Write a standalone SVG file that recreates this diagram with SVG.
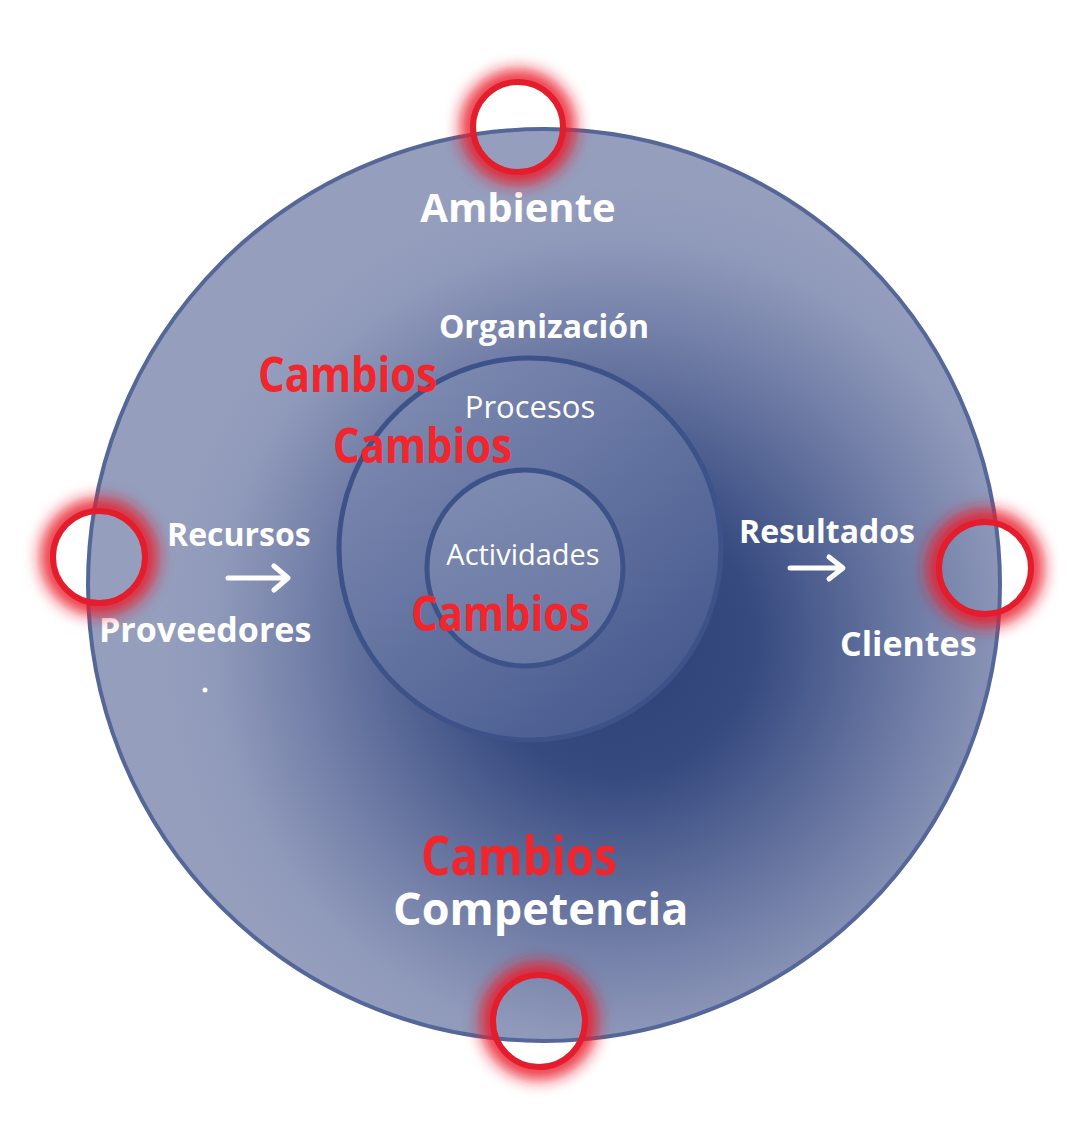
<svg xmlns="http://www.w3.org/2000/svg" width="1091" height="1124" viewBox="0 0 1091 1124">
<style>
.w{fill:#ffffff;font-family:"Open Sans","DejaVu Sans",sans-serif;}
.b{font-weight:bold;}
.r{fill:#f1252c;font-family:"Open Sans","DejaVu Sans",sans-serif;font-weight:bold;}
.ring{fill:none;stroke:#e31d2b;stroke-width:6;}
.glow{fill:none;stroke:#ea1f2c;stroke-width:18;filter:url(#blur);}
.edge{stroke:#3d5288;stroke-width:5;}
.oedge{stroke:#556699;stroke-width:4;}
</style>
<defs>
<radialGradient id="gOuter" cx="0.58" cy="0.56" r="0.5">
<stop offset="0" stop-color="#2c4076"/>
<stop offset="0.3" stop-color="#364a80"/>
<stop offset="0.7" stop-color="#7682aa"/>
<stop offset="0.88" stop-color="#8f99ba"/>
<stop offset="1" stop-color="#959ebd"/>
</radialGradient>
<linearGradient id="gMid" x1="0.2" y1="0.1" x2="0.85" y2="0.9">
<stop offset="0" stop-color="#7b88af"/>
<stop offset="1" stop-color="#475a8f"/>
</linearGradient>
<linearGradient id="gIn" x1="0.3" y1="0" x2="0.7" y2="1">
<stop offset="0" stop-color="#7e8bb1"/>
<stop offset="1" stop-color="#6877a3"/>
</linearGradient>
<filter id="blur" filterUnits="userSpaceOnUse" x="0" y="0" width="1091" height="1124"><feGaussianBlur stdDeviation="8"/></filter>
<mask id="mT" maskUnits="userSpaceOnUse" x="0" y="0" width="1091" height="1124"><rect width="1091" height="1124" fill="#fff"/><circle cx="518" cy="127" r="43" fill="#000"/></mask>
<mask id="mL" maskUnits="userSpaceOnUse" x="0" y="0" width="1091" height="1124"><rect width="1091" height="1124" fill="#fff"/><circle cx="99" cy="557" r="44" fill="#000"/></mask>
<mask id="mR" maskUnits="userSpaceOnUse" x="0" y="0" width="1091" height="1124"><rect width="1091" height="1124" fill="#fff"/><circle cx="985" cy="568" r="44" fill="#000"/></mask>
<mask id="mB" maskUnits="userSpaceOnUse" x="0" y="0" width="1091" height="1124"><rect width="1091" height="1124" fill="#fff"/><circle cx="539" cy="1021" r="44" fill="#000"/></mask>
</defs>
<rect width="1091" height="1124" fill="#ffffff"/>
<g id="ambiente">
<circle cx="544" cy="585" r="456" fill="url(#gOuter)" class="oedge"/>
<text x="518" y="222" class="w b" font-size="40" text-anchor="middle">Ambiente</text>
<text x="393" y="925" class="w b" font-size="45">Competencia</text>
<text x="421" y="875" class="r" font-size="54" textLength="196" lengthAdjust="spacingAndGlyphs">Cambios</text>
</g>
<g id="organizacion">
<circle cx="530" cy="549" r="191" fill="url(#gMid)" class="edge"/>
<text x="544" y="338" class="w b" font-size="32" text-anchor="middle">Organización</text>
<text x="258" y="392" class="r" font-size="48" textLength="179" lengthAdjust="spacingAndGlyphs">Cambios</text>
</g>
<g id="procesos">
<text x="530" y="418" class="w" font-size="31" text-anchor="middle">Procesos</text>
<text x="333" y="463" class="r" font-size="48" textLength="179" lengthAdjust="spacingAndGlyphs">Cambios</text>
</g>
<g id="actividades">
<circle cx="525" cy="568" r="98" fill="url(#gIn)" class="edge"/>
<text x="523" y="565" class="w" font-size="29" text-anchor="middle">Actividades</text>
<text x="411" y="631" class="r" font-size="48" textLength="179" lengthAdjust="spacingAndGlyphs">Cambios</text>
</g>
<g id="recursos">
<text x="167" y="546" class="w b" font-size="32">Recursos</text>
<text x="99" y="642" class="w b" font-size="34">Proveedores</text>
<circle cx="205" cy="690" r="2.5" fill="#ffffff"/>
</g>
<g id="resultados">
<text x="739" y="543" class="w b" font-size="32">Resultados</text>
<text x="840" y="656" class="w b" font-size="34">Clientes</text>
</g>
<g id="connectors" fill="none" stroke="#ffffff" stroke-width="5" stroke-linecap="round" stroke-linejoin="round">
<path d="M228 578 H286 M274 566 L288 578 L274 590"/>
<path d="M790 568 H841 M829 557 L843 568 L829 579"/>
</g>
<g id="rings">
<circle cx="518" cy="127" r="48" class="glow" mask="url(#mT)"/>
<circle cx="518" cy="127" r="45" class="ring"/>
<circle cx="99" cy="557" r="49" class="glow" mask="url(#mL)"/>
<circle cx="99" cy="557" r="46" class="ring"/>
<circle cx="985" cy="568" r="49" class="glow" mask="url(#mR)"/>
<circle cx="985" cy="568" r="46" class="ring"/>
<circle cx="539" cy="1021" r="49" class="glow" mask="url(#mB)"/>
<circle cx="539" cy="1021" r="46" class="ring"/>
</g>
</svg>
